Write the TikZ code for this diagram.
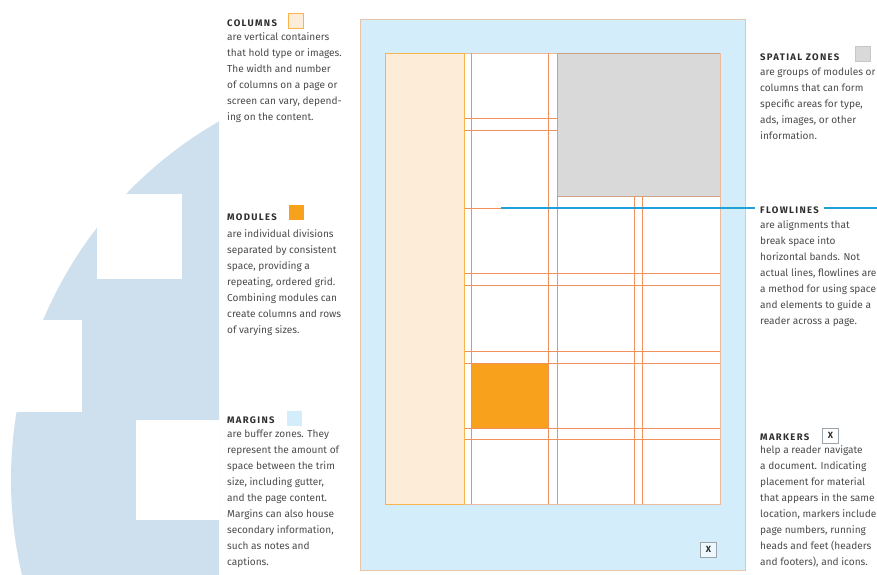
\documentclass[tikz,border=0pt]{standalone}
\usepackage{fontspec}
\setmainfont{Fira Sans}
\newfontfamily\headfont[LetterSpace=14]{Fira Sans}
\definecolor{bgcircle}{HTML}{CEDFEE}
\definecolor{pageblue}{HTML}{D4EDFA}
\definecolor{pageborder}{HTML}{E8C4AA}
\definecolor{colfill}{HTML}{FDEDD8}
\definecolor{colborder}{HTML}{F6B44A}
\definecolor{gridline}{HTML}{F0905A}
\definecolor{contentborder}{HTML}{EDB9A0}
\definecolor{zonegray}{HTML}{D9D9DA}
\definecolor{zoneborder}{HTML}{CDA288}
\definecolor{moduleorange}{HTML}{F7A11C}
\definecolor{flowblue}{HTML}{1EA0D9}
\definecolor{headtext}{HTML}{2E2E2E}
\definecolor{bodytext}{HTML}{4A4A4A}
\definecolor{markerborder}{HTML}{9AA4AA}
\newcommand{\firststrut}{\rule{0pt}{11pt}}
\begin{document}
\begin{tikzpicture}[x=1pt,y=-1pt,
  headstyle/.style={font=\headfont\bfseries\fontsize{9.5}{11}\selectfont, text=headtext, inner sep=0pt, anchor=base west},
  bodystyle/.style={font=\fontsize{10.1}{16}\selectfont, text=bodytext, align=left, inner sep=0pt, anchor=north west},
  swatch/.style={minimum width=15pt, minimum height=15pt, inner sep=0pt, line width=0.8pt},
  grid/.style={draw=gridline, line width=0.85pt},
  markerbox/.style={draw=markerborder, fill=white!60!pageblue, line width=0.6pt, minimum width=16pt, minimum height=15pt, inner sep=0pt, font=\bfseries\fontsize{9}{10}\selectfont, text=headtext},
  flowline/.style={draw=flowblue, line width=1.8pt}
]
\useasboundingbox (0,0) rectangle (877,574);

% background decorative circle with white cut-outs
\begin{scope}
  \clip (0,0) rectangle (219,574);
  \fill[bgcircle] (424,480) circle[radius=413pt];
  \fill[white] (97,194) rectangle (182,279);
  \fill[white] (0,320) rectangle (82,412);
  \fill[white] (136,420) rectangle (219,520);
\end{scope}

% page
\filldraw[fill=pageblue, draw=pageborder, line width=1pt] (360,19) rectangle (745,570);
% content area
\filldraw[fill=white, draw=contentborder, line width=0.8pt] (464,53) rectangle (720,504);
% column
\filldraw[fill=colfill, draw=colborder, line width=0.9pt] (385,53) rectangle (464,504);
% spatial zone
\filldraw[fill=zonegray, draw=zoneborder, line width=0.9pt] (557,53) rectangle (720,196);
% module
\fill[moduleorange] (471,363) rectangle (548,428);

% grid lines
\draw[grid] (471,53) -- (471,504);
\draw[grid] (548,53) -- (548,504);
\draw[grid] (557,196) -- (557,504);
\draw[grid] (634,196) -- (634,504);
\draw[grid] (642,196) -- (642,504);
\draw[grid] (464,118) -- (557,118);
\draw[grid] (464,130) -- (557,130);
\draw[grid] (464,208) -- (720,208);
\foreach \yy in {273,285,351,363,428,439} {\draw[grid] (464,\yy) -- (720,\yy);}
\draw[draw=contentborder, line width=0.8pt] (720,53) -- (720,504);
\draw[draw=colborder, line width=0.9pt] (464,53) -- (464,504);

% marker on page
\node[markerbox] (pagemarker) at (708.5,549.5) {X};

% ---- left texts ----
\node[headstyle] (colh) at (227,26.6) {COLUMNS};
\node[swatch, fill=colfill, draw=colborder] (colsw) at (295.5,20.5) {};
\node[bodystyle] (colb) at (227,29) {\firststrut are vertical containers\\that hold type or images.\\The width and number\\of columns on a page or\\screen can vary, depend-\\ing on the content.};

\node[headstyle] (modh) at (227,220) {MODULES};
\node[swatch, fill=moduleorange] (modsw) at (296.5,212.5) {};
\node[bodystyle] (modb) at (227,225.8) {\firststrut are individual divisions\\separated by consistent\\space, providing a\\repeating, ordered grid.\\Combining modules can\\create columns and rows\\of varying sizes.};

\node[headstyle] (marh) at (227,423.3) {MARGINS};
\node[swatch, fill=pageblue] (marsw) at (294.5,418.5) {};
\node[bodystyle] (marb) at (227,426) {\firststrut are buffer zones. They\\represent the amount of\\space between the trim\\size, including gutter,\\and the page content.\\Margins can also house\\secondary information,\\such as notes and\\captions.};

% ---- right texts ----
\node[headstyle] (spah) at (760,60) {SPATIAL ZONES};
\node[swatch, fill=zonegray, draw=markerborder!60] (spasw) at (863,53.5) {};
\node[bodystyle] (spab) at (760,64.5) {\firststrut are groups of modules or\\columns that can form\\specific areas for type,\\ads, images, or other\\information.};

\node[headstyle, inner xsep=5pt] (flowh) at (755,213.3) {FLOWLINES};
\node[bodystyle] (flowb) at (760,216.8) {\firststrut are alignments that\\break space into\\horizontal bands. Not\\actual lines, flowlines are\\a method for using space\\and elements to guide a\\reader across a page.};
\coordinate (flowstart) at (501,208);
\coordinate (flowend) at (877,208);
\draw[flowline] (flowstart) -- (flowstart -| flowh.west);
\draw[flowline] (flowstart -| flowh.east) -- (flowend);

\node[headstyle] (markh) at (760,440) {MARKERS};
\node[markerbox, fill=white] (marksw) at (830.5,435.5) {X};
\node[bodystyle] (markb) at (760,441.8) {\firststrut help a reader navigate\\a document. Indicating\\placement for material\\that appears in the same\\location, markers include\\page numbers, running\\heads and feet (headers\\and footers), and icons.};
\end{tikzpicture}
\end{document}
